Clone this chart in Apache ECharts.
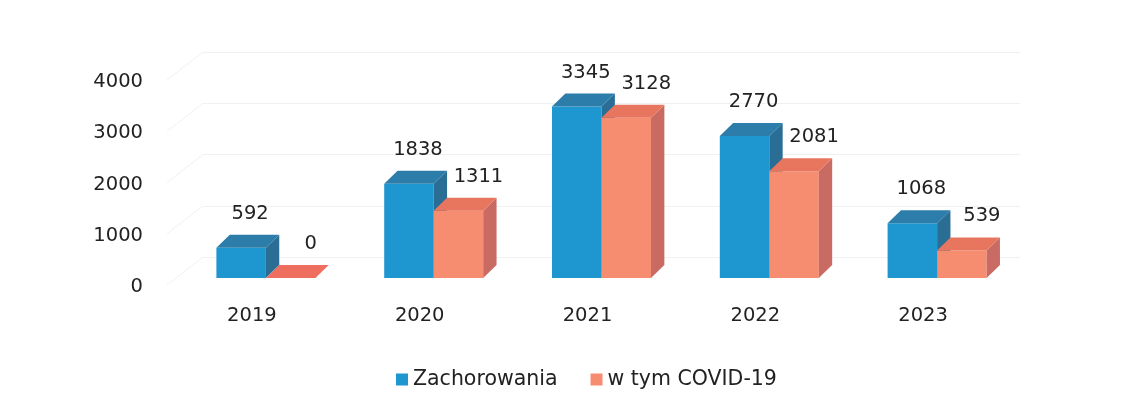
<!DOCTYPE html>
<html>
<head>
<meta charset="utf-8">
<script src="https://cdn.jsdelivr.net/npm/echarts@6/dist/echarts.min.js"></script>
<style>
  html, body { margin: 0; padding: 0; background: #fff; }
  #chart { width: 1131px; height: 405px; }
</style>
</head>
<body>
<div id="chart"></div>
<script>
const years = ['2019', '2020', '2021', '2022', '2023'];
const zachorowania = [592, 1838, 3345, 2770, 1068];
const covid = [0, 1311, 3128, 2081, 539];
const yTicks = [0, 1000, 2000, 3000, 4000];

const FONT = 'DejaVu Sans';
const TEXT = '#222';

// face colours for the pseudo-3D boxes
const blue = { front: '#1E96D0', top: '#2C7DA9', side: '#2A6E96' };
const salmon = { front: '#F68C70', top: '#E8765F', side: '#C96B62' };

const chart = echarts.init(document.getElementById('chart'));

// draws one box: front face, top and right side, plus value label
function boxRenderer(colors, shift, labelDx) {
    return function (params, api) {
        const base = api.coord([api.value(0), 0]);
        const top = api.coord([api.value(0), api.value(1)]);
        const w = api.size([1, 0])[0] * 0.295;
        const dx = w * 0.27, dy = -13;
        const x0 = base[0] + shift * w;
        const ty = top[1], by = base[1];
        const children = [];
        if (by - ty > 0.5) {
            children.push({ type: 'rect', shape: { x: x0, y: ty, width: w, height: by - ty },
                style: { fill: colors.front } });
        }
        children.push({ type: 'polygon',
            shape: { points: [[x0 + w, ty], [x0 + w + dx, ty + dy], [x0 + w + dx, by + dy], [x0 + w, by]] },
            style: { fill: colors.side } });
        children.push({ type: 'polygon',
            shape: { points: [[x0, ty], [x0 + w, ty], [x0 + w + dx, ty + dy], [x0 + dx, ty + dy]] },
            style: { fill: api.value(1) === 0 ? '#EE6E5F' : colors.top } });
        children.push({ type: 'text',
            style: { text: String(api.value(1)), x: x0 + w / 2 + labelDx, y: ty + dy - 21,
                align: 'center', verticalAlign: 'middle', fontFamily: FONT, fontSize: 19.5, fill: TEXT } });
        return { type: 'group', children: children };
    };
}

const option = {
    backgroundColor: '#fff',
    animation: false,
    legend: {
        data: ['Zachorowania', 'w tym COVID-19'],
        left: 391, top: 364,
        icon: 'rect', itemWidth: 12, itemHeight: 12, itemGap: 33,
        textStyle: { fontFamily: FONT, fontSize: 20.5, color: TEXT }
    },
    grid: [
        { left: 182, right: 110, top: 73, bottom: 127 },   // bars (front plane)
        { left: 203, right: 111, top: 52, bottom: 148 },   // back wall
        { left: 167, right: 110, top: 82, bottom: 118 }    // value axis labels (front edge)
    ],
    xAxis: [
        {
            type: 'category', data: years, gridIndex: 0,
            axisLine: { show: false }, axisTick: { show: false },
            axisLabel: { margin: 28, padding: [0, 28, 0, 0], fontFamily: FONT, fontSize: 19.5, color: TEXT }
        },
        { type: 'category', data: years, gridIndex: 1, show: false },
        { type: 'category', data: years, gridIndex: 2, show: false }
    ],
    yAxis: [
        {
            type: 'value', gridIndex: 0, min: 0, max: 4000, interval: 1000, show: false
        },
        {
            type: 'value', gridIndex: 1, min: 0, max: 4000, interval: 1000,
            axisLine: { show: false }, axisTick: { show: false }, axisLabel: { show: false },
            splitLine: { lineStyle: { color: '#f1f1f1', width: 1 } }
        },
        {
            type: 'value', gridIndex: 2, min: 0, max: 4000, interval: 1000,
            axisLine: { show: false }, axisTick: { show: false }, splitLine: { show: false },
            axisLabel: { margin: 24, formatter: v => String(v),
                fontFamily: FONT, fontSize: 19.5, color: TEXT }
        }
    ],
    series: [
        {
            // side-wall diagonals of the gridlines
            type: 'custom', xAxisIndex: 1, yAxisIndex: 1, silent: true,
            data: yTicks.map(v => [0, v]),
            renderItem: function (params, api) {
                const y = api.coord([0, api.value(1)])[1];
                const x = params.coordSys.x;
                return { type: 'line', shape: { x1: x, y1: y, x2: x - 36, y2: y + 28 },
                    style: { stroke: '#f1f1f1', lineWidth: 1 } };
            }
        },
        {
            name: 'Zachorowania', type: 'custom', xAxisIndex: 0, yAxisIndex: 0,
            itemStyle: { color: blue.front },
            data: zachorowania.map((v, i) => [i, v]),
            renderItem: boxRenderer(blue, -1, 9)
        },
        {
            name: 'w tym COVID-19', type: 'custom', xAxisIndex: 0, yAxisIndex: 0,
            itemStyle: { color: salmon.front },
            data: covid.map((v, i) => [i, v]),
            renderItem: boxRenderer(salmon, 0, 20)
        }
    ]
};

chart.setOption(option);
</script>
</body>
</html>
